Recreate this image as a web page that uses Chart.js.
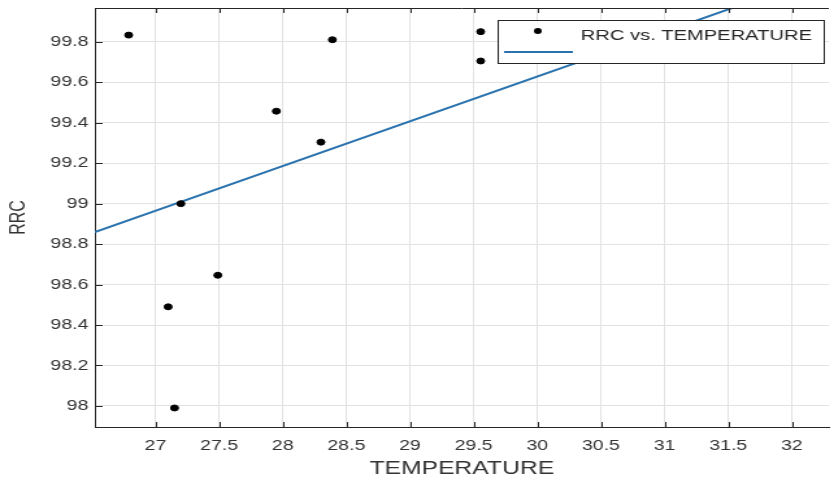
<!DOCTYPE html>
<html>
<head>
<meta charset="utf-8">
<script src="https://cdn.jsdelivr.net/npm/chart.js@4.4.1/dist/chart.umd.min.js"></script>
<style>
body{margin:0;background:#fff}
#wrap{width:834px;height:482px;overflow:hidden}
#c{transform:scaleX(1.2991);transform-origin:0 0}
</style>
</head>
<body>
<div id="wrap"><canvas id="c" width="642" height="482" style="width:642px;height:482px"></canvas></div>
<script>
// measured points
const temperature = [26.79, 28.39, 29.555, 29.555, 27.95, 28.30, 27.20, 27.49, 27.10, 27.15];
const rrc = [99.833, 99.81, 99.85, 99.705, 99.457, 99.304, 99.0, 98.646, 98.49, 97.99];
// fitted line end points
const fitX = [26.524, 32.29];
const fitY = [98.859, 100.135];
const xRange = [26.524, 32.29];
const yRange = [97.896, 99.967];
const xStep = 0.5, yStep = 0.2;
const seriesLabel = 'RRC vs. TEMPERATURE';
const xTitle = 'TEMPERATURE', yTitle = 'RRC';

const FONT = "'Liberation Sans', Arial, sans-serif";
const dark = '#262626';
const blue = '#2a72ad';

function pts(xs, ys) {
  return xs.map((v, i) => ({x: v, y: ys[i]}));
}

const boxPlugin = {
  id: 'box',
  afterDraw(chart) {
    const {ctx, chartArea: a, scales: {x, y}} = chart;
    ctx.save();
    ctx.strokeStyle = dark;
    ctx.lineWidth = 1;
    ctx.beginPath();
    ctx.moveTo(a.left, a.top + 0.5);
    ctx.lineTo(a.right, a.top + 0.5);
    x.ticks.forEach(t => {
      const px = Math.round(x.getPixelForValue(t.value)) + 0.5;
      ctx.moveTo(px, a.bottom); ctx.lineTo(px, a.bottom - 5);
      ctx.moveTo(px, a.top); ctx.lineTo(px, a.top + 5);
    });
    y.ticks.forEach(t => {
      const py = Math.round(y.getPixelForValue(t.value)) + 0.5;
      ctx.moveTo(a.left, py); ctx.lineTo(a.left + 6, py);
    });
    ctx.stroke();

    // legend
    const lx = 383, ly = 20, lw = 251, lh = 43;
    ctx.fillStyle = '#fff';
    ctx.fillRect(lx, ly, lw, lh);
    ctx.strokeRect(lx + 0.5, ly + 0.5, lw, lh);
    ctx.fillStyle = '#000';
    ctx.beginPath();
    ctx.arc(414, 31, 3, 0, Math.PI * 2);
    ctx.fill();
    ctx.fillStyle = dark;
    ctx.font = '15.5px ' + FONT;
    ctx.textBaseline = 'alphabetic';
    ctx.fillText(chart.data.datasets[0].label, 447, 39.5);
    ctx.strokeStyle = blue;
    ctx.lineWidth = 2;
    ctx.beginPath();
    ctx.moveTo(388, 52); ctx.lineTo(441, 52);
    ctx.stroke();
    ctx.restore();
  }
};

const fmt = v => String(Number(v.toFixed(1)));

new Chart(document.getElementById('c'), {
  type: 'scatter',
  data: {
    datasets: [
      {
        label: seriesLabel,
        data: pts(temperature, rrc),
        backgroundColor: '#000',
        borderColor: '#000',
        pointRadius: 3,
        pointHoverRadius: 3
      },
      {
        label: '',
        type: 'line',
        data: pts(fitX, fitY),
        borderColor: blue,
        borderWidth: 2,
        pointRadius: 0,
        fill: false
      }
    ]
  },
  options: {
    responsive: false,
    animation: false,
    layout: {padding: {top: 8, right: -3, left: 0, bottom: 0}},
    plugins: {legend: {display: false}, tooltip: {enabled: false}},
    scales: {
      x: {
        type: 'linear',
        min: xRange[0], max: xRange[1],
        afterFit: s => { s.height = 55; s.paddingLeft = 0; s.paddingRight = 0; },
        grid: {color: '#e2e2e2', drawTicks: false},
        border: {color: dark, width: 1},
        ticks: {
          stepSize: xStep, includeBounds: false, autoSkip: false, maxRotation: 0,
          padding: 10, color: '#333', font: {family: FONT, size: 15},
          callback: fmt
        },
        title: {display: true, text: xTitle, color: '#333', font: {family: FONT, size: 19}, padding: {top: 0, bottom: 2}}
      },
      y: {
        type: 'linear',
        min: yRange[0], max: yRange[1],
        afterFit: s => { s.width = 73; s.paddingTop = 0; s.paddingBottom = 0; },
        grid: {color: '#e2e2e2', drawTicks: false},
        border: {color: dark, width: 1},
        ticks: {
          stepSize: yStep, includeBounds: false, autoSkip: false,
          padding: 5, color: '#333', font: {family: FONT, size: 15},
          callback: fmt
        },
        title: {display: true, text: yTitle, color: '#333', font: {family: FONT, size: 16}, padding: {top: 5, bottom: 0}}
      }
    }
  },
  plugins: [boxPlugin]
});
</script>
</body>
</html>
